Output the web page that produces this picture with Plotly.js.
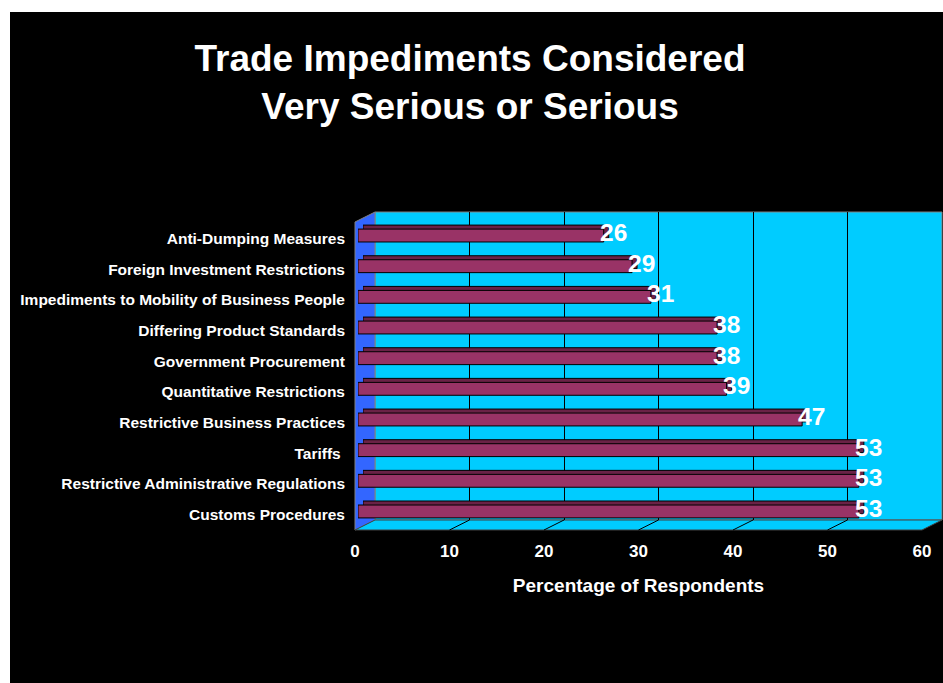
<!DOCTYPE html>
<html>
<head>
<meta charset="utf-8">
<script src="https://cdn.plot.ly/plotly-3.0.1.min.js"></script>
<style>
html,body{margin:0;padding:0;background:#ffffff;}
#plot{position:absolute;left:10px;top:12px;width:933px;height:671px;}
</style>
</head>
<body>
<div id="plot"></div>
<script>
// ---- data ----
const categories = [
  'Customs Procedures',
  'Restrictive Administrative Regulations',
  'Tariffs ',
  'Restrictive Business Practices',
  'Quantitative Restrictions',
  'Government Procurement',
  'Differing Product Standards',
  'Impediments to Mobility of Business People',
  'Foreign Investment Restrictions',
  'Anti-Dumping Measures'
];
const values = [53, 53, 53, 47, 39, 38, 38, 31, 29, 26];
const tickVals = [0, 10, 20, 30, 40, 50, 60];
const tickText = ['0', '10', '20', '30', '40', '50', '60'];
const chartTitle = 'Trade Impediments Considered<br>Very Serious or Serious';
const xTitle = 'Percentage of Respondents';

// ---- geometry helpers (image pixels -> paper) ----
const W = 933, H = 671, OX = 10, OY = 12;
const px = x => (x - OX) / W;
const py = y => 1 - (y - OY) / H;

const FONT = 'Liberation Sans, Arial, sans-serif';
const CYAN = '#00CCFF', BLUE = '#3366FF', BAR = '#993366', BARDARK = '#6a2246';

const traces = [
  // back wall grid subplot (dummy)
  {type:'scatter', x:[], y:[], xaxis:'x', yaxis:'y', hoverinfo:'skip', showlegend:false},
  // back (depth) faces of bars
  {type:'bar', orientation:'h', x:values, y:categories, xaxis:'x2', yaxis:'y2', width:0.42,
   marker:{color:BARDARK, line:{color:'#000', width:1}}, hoverinfo:'skip', showlegend:false},
  // front faces of bars
  {type:'bar', orientation:'h', x:values, y:categories, xaxis:'x3', yaxis:'y3', width:0.42,
   marker:{color:BAR, line:{color:'#000', width:1}}, showlegend:false},
  // front plane axis subplot (dummy)
  {type:'scatter', x:[], y:[], xaxis:'x4', yaxis:'y4', hoverinfo:'skip', showlegend:false}
];

const shapes = [
  {type:'rect', xref:'paper', yref:'paper', layer:'below',
   x0:px(375), x1:px(942), y0:py(520), y1:py(212),
   fillcolor:CYAN, line:{color:'#808080', width:1}},
  {type:'path', xref:'paper', yref:'paper', layer:'below',
   path:`M ${px(355)},${py(222)} L ${px(375)},${py(212)} L ${px(375)},${py(520)} L ${px(355)},${py(530)} Z`,
   fillcolor:BLUE, line:{color:'#808080', width:1}},
  {type:'path', xref:'paper', yref:'paper', layer:'below',
   path:`M ${px(355)},${py(530)} L ${px(375)},${py(520)} L ${px(942)},${py(520)} L ${px(922)},${py(530)} Z`,
   fillcolor:CYAN, line:{color:'#404040', width:1}}
];
tickVals.filter(v => v > 0 && v < 60).forEach(v => {
  shapes.push({type:'line', xref:'x4', yref:'paper', layer:'below',
    xsizemode:'pixel', xanchor:v, x0:0, x1:20,
    ysizemode:'pixel', yanchor:py(530), y0:0, y1:10,
    line:{color:'#000', width:1}});
});

const annotations = values.map((v, i) => ({
  x:v, y:categories[i], xref:'x3', yref:'y3', text:String(v), showarrow:false,
  xanchor:'left', yanchor:'middle', xshift:-6, yshift:3,
  font:{family:FONT, size:24.5, color:'#ffffff', weight:'bold'}
}));

const hidden = {visible:false, fixedrange:true};
const layout = {
  width:W, height:H,
  margin:{l:0, r:0, t:0, b:0},
  paper_bgcolor:'#000000', plot_bgcolor:'rgba(0,0,0,0)',
  showlegend:false,
  title:{text:'<b>' + chartTitle.replace('<br>', '</b><br><b>') + '</b>',
    font:{family:FONT, size:37, color:'#ffffff'},
    x:px(470), xref:'paper', xanchor:'center', y:py(71), yref:'paper', yanchor:'middle'},
  xaxis:{domain:[px(375), px(942)], range:[0,60], anchor:'y', showgrid:true, gridcolor:'#000', gridwidth:1,
    tickvals:tickVals.filter(v => v > 0 && v < 60), showticklabels:false, zeroline:false, showline:false, ticks:'', fixedrange:true},
  yaxis:Object.assign({domain:[py(520), py(212)], range:[0,1], anchor:'x'}, hidden),
  xaxis2:Object.assign({domain:[px(363), px(930)], range:[0,60], anchor:'y2'}, hidden),
  yaxis2:Object.assign({domain:[py(522.8), py(216.2)], range:[-0.5,9.5], type:'category', categoryorder:'array', categoryarray:categories, anchor:'x2'}, hidden),
  xaxis3:Object.assign({domain:[px(358), px(925)], range:[0,60], anchor:'y3'}, hidden),
  yaxis3:{domain:[py(526.8), py(220.2)], range:[-0.5,9.5], type:'category', categoryorder:'array', categoryarray:categories,
    anchor:'x3', showgrid:false, zeroline:false, showline:false, ticks:'', ticklabelstandoff:12, ticklabelshift:3,
    tickfont:{family:FONT, size:15.5, color:'#ffffff', weight:'bold'}, automargin:false, fixedrange:true},
  xaxis4:{domain:[px(355), px(922)], range:[0,60], anchor:'y4', tickvals:tickVals, ticktext:tickText,
    showgrid:false, zeroline:false, showline:false, ticks:'', ticklabelstandoff:9,
    tickfont:{family:FONT, size:17, color:'#ffffff', weight:'bold'},
    title:{text:xTitle, font:{family:FONT, size:19, color:'#ffffff', weight:'bold'}, standoff:18},
    automargin:false, fixedrange:true},
  yaxis4:Object.assign({domain:[py(530), py(520)], range:[0,1], anchor:'x4'}, hidden),
  shapes:shapes,
  annotations:annotations
};

Plotly.newPlot('plot', traces, layout, {displayModeBar:false, staticPlot:true});
</script>
</body>
</html>
